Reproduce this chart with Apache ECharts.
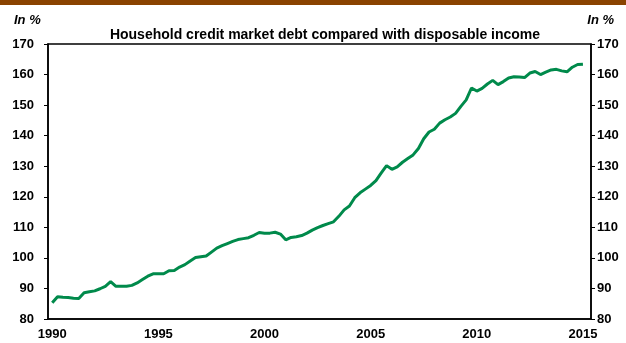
<!DOCTYPE html>
<html>
<head>
<meta charset="utf-8">
<script src="https://cdn.jsdelivr.net/npm/echarts@6/dist/echarts.min.js"></script>
<style>
html,body{margin:0;padding:0;background:#fff;}
#chart{width:626px;height:343px;}
</style>
</head>
<body>
<div id="chart"></div>
<script>
// Quarterly observations, 1990Q1 .. 2015Q1
const startYear = 1990;
const debtRatio = [
  85.3, 87.3, 87.1, 87.0, 86.8, 86.7, 88.6, 88.9, 89.2, 89.9,
  90.7, 92.2, 90.7, 90.7, 90.7, 91.0, 91.8, 92.9, 94.0, 94.8,
  94.8, 94.8, 95.8, 95.9, 97.0, 97.8, 99.0, 100.1, 100.4, 100.6,
  101.9, 103.2, 104.0, 104.7, 105.4, 106.0, 106.3, 106.6, 107.4, 108.3,
  108.1, 108.1, 108.4, 107.8, 105.9, 106.7, 106.9, 107.3, 108.1, 109.1,
  109.9, 110.6, 111.2, 111.8, 113.6, 115.7, 117.0, 119.7, 121.3, 122.5,
  123.7, 125.3, 127.8, 130.2, 129.0, 129.8, 131.3, 132.5, 133.7, 135.8,
  139.0, 141.2, 142.1, 144.1, 145.2, 146.1, 147.3, 149.6, 151.7, 155.6,
  154.6, 155.5, 156.9, 158.1, 156.7, 157.7, 158.9, 159.3, 159.2, 159.0,
  160.5, 161.0, 160.0, 160.8, 161.5, 161.7, 161.2, 160.9, 162.4, 163.3,
  163.4
];
const yearLabels = [1990, 1995, 2000, 2005, 2010, 2015];
const yTicks = [80, 90, 100, 110, 120, 130, 140, 150, 160, 170];
const title = 'Household credit market debt compared with disposable income';
const unitLabel = 'In %';

const seriesData = debtRatio.map((v, i) => [startYear + i / 4, v]);
const labelFont = {fontFamily: 'Liberation Sans, Arial, sans-serif', fontWeight: 'bold', fontSize: 13, color: '#000'};

const chart = echarts.init(document.getElementById('chart'), null, {renderer: 'canvas'});
chart.setOption({
  animation: false,
  backgroundColor: '#fff',
  graphic: [
    {type: 'rect', left: 0, top: 0, shape: {width: 626, height: 5}, style: {fill: '#8a4300'}}
  ],
  title: [
    {text: title, left: 320, top: 23, textAlign: 'center',
     textStyle: {fontFamily: 'Liberation Sans, Arial, sans-serif', fontWeight: 'bold', fontSize: 14, color: '#000'}},
    {text: unitLabel, left: 9, top: 9,
     textStyle: {fontFamily: 'Liberation Sans, Arial, sans-serif', fontWeight: 'bold', fontStyle: 'italic', fontSize: 13, color: '#000'}},
    {text: unitLabel, right: 7, top: 9,
     textStyle: {fontFamily: 'Liberation Sans, Arial, sans-serif', fontWeight: 'bold', fontStyle: 'italic', fontSize: 13, color: '#000'}}
  ],
  grid: {left: 48, right: 35, top: 44, bottom: 24, show: true, borderColor: '#000', borderWidth: 1.5, backgroundColor: 'transparent'},
  xAxis: {
    type: 'value', min: 1989.8, max: 2015.38,
    axisLine: {show: true, onZero: false, lineStyle: {color: '#000', width: 1.5}},
    axisTick: {show: false},
    splitLine: {show: false},
    axisLabel: Object.assign({margin: 9, customValues: yearLabels, formatter: v => String(Math.round(v))}, labelFont)
  },
  yAxis: [
    {type: 'value', min: yTicks[0], max: yTicks[yTicks.length - 1], interval: 10, position: 'left',
     axisLine: {show: true, lineStyle: {color: '#000', width: 1.5}},
     axisTick: {show: true, inside: false, length: 4, lineStyle: {color: '#000', width: 1}},
     splitLine: {show: false},
     axisLabel: Object.assign({margin: 14}, labelFont)},
    {type: 'value', min: yTicks[0], max: yTicks[yTicks.length - 1], interval: 10, position: 'right',
     axisLine: {show: true, lineStyle: {color: '#000', width: 1.5}},
     axisTick: {show: true, inside: false, length: 4, lineStyle: {color: '#000', width: 1}},
     splitLine: {show: false},
     axisLabel: Object.assign({margin: 6}, labelFont)}
  ],
  series: [{
    type: 'line', data: seriesData, showSymbol: false, symbol: 'none',
    lineStyle: {color: '#008a4b', width: 3}, yAxisIndex: 0
  }]
});
</script>
</body>
</html>
